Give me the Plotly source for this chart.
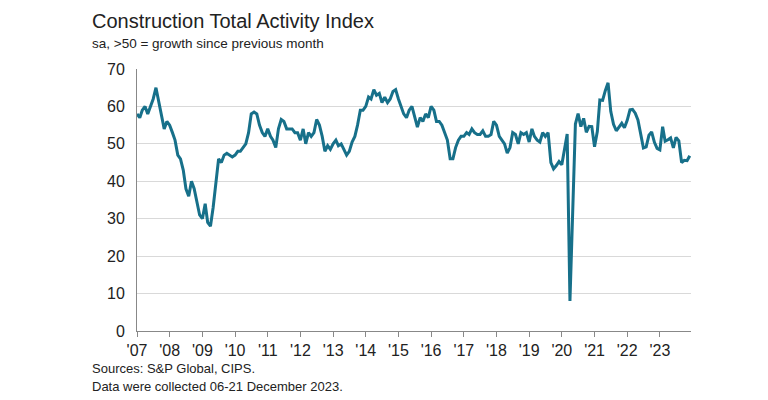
import pandas as pd
import plotly.graph_objects as go

# monthly index values, Jan 2007 - Dec 2023
y2007 = [58, 57, 59, 60, 58, 60, 62, 65, 61, 58, 54, 56]
y2008 = [55, 53, 51, 47, 46, 43, 38, 36, 40, 38, 34, 31]
y2009 = [30, 34, 29, 28, 33, 40, 46, 45, 47, 47.5, 47, 46.5]
y2010 = [47, 48, 48, 49, 50, 53, 58, 58.5, 58, 55, 53, 52]
y2011 = [54, 52, 51, 49, 54, 56.5, 56, 54, 54, 54, 53, 53]
y2012 = [51, 54, 50, 53, 52, 53, 56.5, 55, 52, 48, 49.5, 48.5]
y2013 = [50, 51, 49.5, 50, 48.5, 47, 48, 50.5, 52, 55, 59, 59]
y2014 = [60, 62.5, 62, 64.5, 63, 63.5, 61, 62.5, 61, 62, 64, 64.5]
y2015 = [62, 60, 58, 57, 59, 60, 57, 54.5, 57, 56, 58, 57]
y2016 = [60, 59, 56, 56, 55, 53, 51, 46, 46, 49, 51, 52]
y2017 = [52, 53, 52.5, 54, 53, 52.5, 52.5, 53.5, 52, 52, 52.5, 56]
y2018 = [55, 52, 51, 50, 47.5, 49, 53, 52.5, 50, 53, 52.5, 53]
y2019 = [50.5, 54, 52, 51, 50.5, 53, 52, 53, 45, 43.3, 44.2, 45.3]
y2020 = [44.4, 48.4, 52.6, 8, 28.9, 55.3, 58.1, 54.6, 56.8, 53.1, 54.7, 54.6]
y2021 = [49.2, 53.3, 61.7, 61.6, 64.2, 66.3, 58.7, 55.2, 53.5, 54.6, 55.5, 54.3]
y2022 = [56.3, 59.1, 59.2, 58.2, 56.4, 52.6, 48.9, 49.2, 52.3, 53.2, 50.4, 48.8]
y2023 = [48.4, 54.6, 50.7, 51.1, 51.6, 48.9, 51.7, 50.8, 45.0, 45.6, 45.5, 46.8]

values = (y2007 + y2008 + y2009 + y2010 + y2011 + y2012 + y2013 + y2014 + y2015
          + y2016 + y2017 + y2018 + y2019 + y2020 + y2021 + y2022 + y2023)
dates = pd.date_range("2007-01-01", periods=len(values), freq="MS")

year_ticks = pd.date_range("2007-01-01", "2023-01-01", freq="YS")
year_labels = ["'" + str(d.year)[2:] for d in year_ticks]

L, R, T, B = 129, 85, 61, 77
plot_w, plot_h = 768 - L - R, 400 - T - B

fig = go.Figure()
fig.add_trace(go.Scatter(x=dates, y=values, mode="lines",
                         line=dict(color="#17708a", width=3)))

fig.update_layout(
    width=768, height=400,
    margin=dict(l=L, r=R, t=T, b=B),
    plot_bgcolor="white", paper_bgcolor="white",
    showlegend=False,
    font=dict(family="Liberation Sans, Arial, sans-serif", color="#222", size=16),
)
fig.update_xaxes(range=["2007-01-01", "2023-12-15"], tickvals=year_ticks,
                 ticktext=year_labels, ticks="outside", ticklen=5,
                 tickcolor="#888", showline=True, linecolor="#888",
                 showgrid=False)
fig.update_yaxes(range=[0, 70], dtick=10, gridcolor="#d9d9d9",
                 showline=True, linecolor="#888", zeroline=False,
                 ticks="", ticklabelstandoff=8)

texts = [
    ("Construction Total Activity Index", 13, 20),
    ("sa, >50 = growth since previous month", 36, 13.5),
    ("Sources: S&P Global, CIPS.", 360, 13),
    ("Data were collected 06-21 December 2023.", 378, 13),
]
for t, ypx, sz in texts:
    fig.add_annotation(text=t, x=(82 - L) / plot_w, y=1 - (ypx - T) / plot_h,
                       xref="paper", yref="paper", showarrow=False,
                       xanchor="left", yanchor="middle",
                       font=dict(size=sz, color="#222"))

fig.write_html("out.html")
